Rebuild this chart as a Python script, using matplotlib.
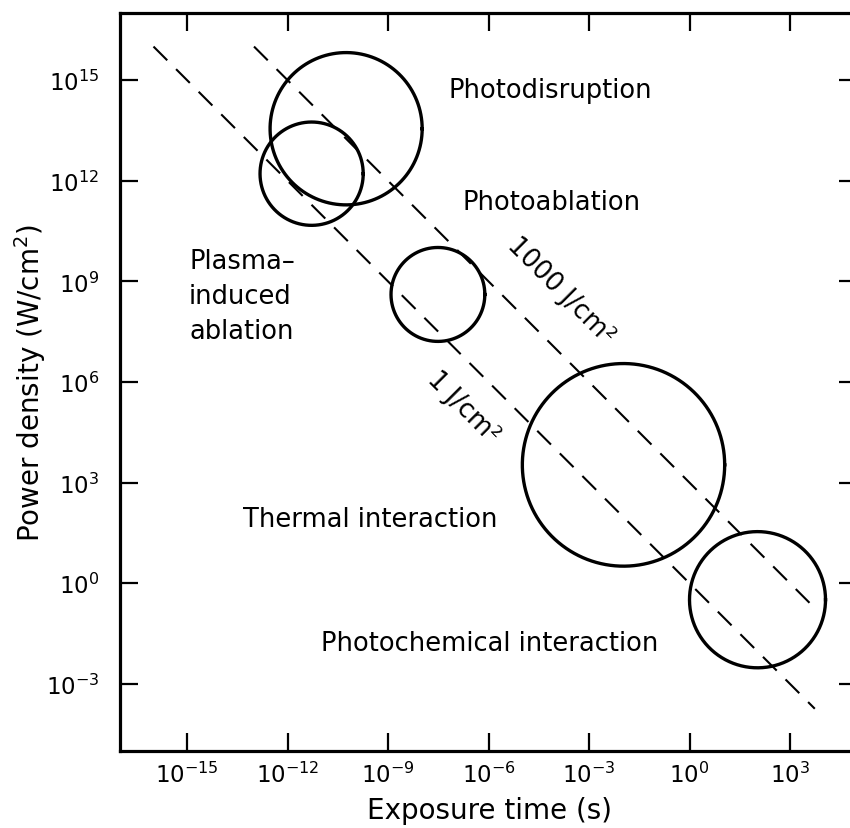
import numpy as np
import matplotlib
matplotlib.use("Agg")
import matplotlib.pyplot as plt

plt.rcParams['font.family'] = ['DejaVu Sans']
plt.rcParams['mathtext.fontset'] = 'dejavusans'
plt.rcParams['lines.scale_dashes'] = False

# ---- data (log10 values) ----
region_names = ["Photodisruption", "Plasma-induced ablation", "Photoablation",
                "Thermal interaction", "Photochemical interaction"]
center_log_time = [-10.25, -11.28, -7.51, -1.97, 2.03]      # log10 exposure time (s)
center_log_power = [13.55, 12.21, 8.61, 3.53, -0.49]        # log10 power density (W/cm^2)
radius_decades = [2.27, 1.54, 1.40, 3.02, 2.03]

fluence_values = [1.0, 1000.0]                 # J/cm^2
fluence_time_start = [1e-16, 1e-13]            # s
fluence_time_end = [5.5e3, 5.5e3]              # s

xtick_exps = [-15, -12, -9, -6, -3, 0, 3]
ytick_exps = [-3, 0, 3, 6, 9, 12, 15]

# ---- figure ----
W, H = 850, 829
fig = plt.figure(figsize=(W / 100, H / 100), dpi=100)
ax = fig.add_axes([120 / W, (H - 752) / H, 737 / W, 738 / H])
ax.set_xscale('log')
ax.set_yscale('log')
ax.set_xlim(1e-17, 1e5)
ax.set_ylim(1e-5, 1e17)

# fluence lines
for F, t0, t1 in zip(fluence_values, fluence_time_start, fluence_time_end):
    t = np.array([t0, t1])
    ax.plot(t, F / t, color='black', lw=1.5, dashes=(14, 9))

# circles (round in log-log space)
theta = np.linspace(0, 2 * np.pi, 400)
for cx, cy, r in zip(center_log_time, center_log_power, radius_decades):
    ax.plot(10 ** (cx + r * np.cos(theta)), 10 ** (cy + r * np.sin(theta)),
            color='black', lw=2.4)

# labels
fs = 18.5
ax.text(10 ** -4.16, 10 ** 14.70, "Photodisruption", fontsize=fs, ha='center', va='center')
ax.text(10 ** -4.13, 10 ** 11.37, "Photoablation", fontsize=fs, ha='center', va='center')
ax.text(10 ** -14.94, 10 ** 8.57, "Plasma–\ninduced\nablation", fontsize=fs,
        ha='left', va='center', linespacing=1.45)
ax.text(10 ** -3.84, 10 ** 8.74, "1000 J/cm²", fontsize=fs, ha='center', va='center',
        rotation=-45, rotation_mode='anchor')
ax.text(10 ** -6.76, 10 ** 5.26, "1 J/cm²", fontsize=fs, ha='center', va='center',
        rotation=-45, rotation_mode='anchor')
ax.text(10 ** -9.54, 10 ** 1.92, "Thermal interaction", fontsize=fs, ha='center', va='center')
ax.text(10 ** -5.96, 10 ** -1.78, "Photochemical interaction", fontsize=fs, ha='center', va='center')

# ticks
ax.set_xticks([10.0 ** e for e in xtick_exps])
ax.set_xticklabels([r"$10^{%d}$" % e for e in xtick_exps])
ax.set_yticks([10.0 ** e for e in ytick_exps])
ax.set_yticklabels([r"$10^{%d}$" % e for e in ytick_exps])
ax.minorticks_off()
ax.tick_params(axis='both', which='major', direction='in', length=13, width=1.6,
               top=True, right=True, labelsize=16.5)
ax.tick_params(axis='x', pad=8)
ax.tick_params(axis='y', pad=15)
for s in ax.spines.values():
    s.set_linewidth(2.3)

ax.set_xlabel("Exposure time (s)", fontsize=20)
ax.set_ylabel("Power density (W/cm$^2$)", fontsize=20)
ax.xaxis.set_label_coords(0.502, -0.061)
ax.yaxis.set_label_coords(-0.098, 0.5)

fig.savefig("out.png", dpi=100)
